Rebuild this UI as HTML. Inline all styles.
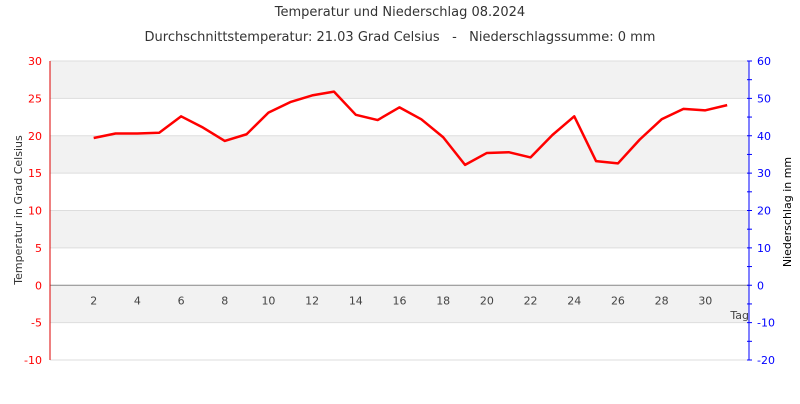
<!DOCTYPE html>
<html><head><meta charset="utf-8"><style>
body{margin:0;background:#fff;font-family:"DejaVu Sans","Liberation Sans",sans-serif}
</style></head><body>
<svg width="800" height="400" xmlns="http://www.w3.org/2000/svg" font-family="DejaVu Sans, Liberation Sans, sans-serif">
<text x="400" y="16" text-anchor="middle" font-size="13" fill="#333">Temperatur und Niederschlag 08.2024</text>
<text x="400" y="41" text-anchor="middle" font-size="13" fill="#333" xml:space="preserve">Durchschnittstemperatur: 21.03 Grad Celsius   -   Niederschlagssumme: 0 mm</text>
<g id="bands"></g><g id="grid"></g><g id="axes"></g><g id="series"></g>
<text transform="translate(22,210) rotate(-90)" text-anchor="middle" font-size="11" fill="#333">Temperatur in Grad Celsius</text>
<text transform="translate(791,212) rotate(-90)" text-anchor="middle" font-size="11" fill="#000">Niederschlag in mm</text>
<text x="749" y="319" text-anchor="end" font-size="11" fill="#444">Tag</text>
</svg>
<script>
const days=[2,3,4,5,6,7,8,9,10,11,12,13,14,15,16,17,18,19,20,21,22,23,24,25,26,27,28,29,30,31];
const temps=[19.7,20.3,20.3,20.4,22.6,21.1,19.3,20.2,23.1,24.5,25.4,25.9,22.8,22.1,23.8,22.2,19.8,16.1,17.7,17.8,17.1,20.1,22.6,16.6,16.3,19.5,22.2,23.6,23.4,24.1];
const leftTicks=[30,25,20,15,10,5,0,-5,-10];
const rightTicks=[60,50,40,30,20,10,0,-10,-20];
const xTicks=[2,4,6,8,10,12,14,16,18,20,22,24,26,28,30];
const NS="http://www.w3.org/2000/svg";
const X0=50,X1=749,Y0=61,Y1=360;
const xs=d=>X0+d*(X1-X0)/32;
const yl=v=>Y1-(v+10)*(Y1-Y0)/40;
const yr=v=>Y1-(v+20)*(Y1-Y0)/80;
function mk(p,t,a){const e=document.createElementNS(NS,t);for(const k in a)e.setAttribute(k,a[k]);document.getElementById(p).appendChild(e);return e;}
for(let i=0;i<leftTicks.length-1;i++){
 if(i%2===0){const r=mk('bands','rect',{x:X0,y:yl(leftTicks[i]),width:X1-X0,height:yl(leftTicks[i+1])-yl(leftTicks[i]),fill:'#f2f2f2'});
 
 }
}
leftTicks.forEach(v=>{
 const l=mk('grid','line',{x1:X0,x2:X1,y1:yl(v),y2:yl(v),stroke:v===0?'#888':'#ddd','stroke-width':1});
 
 
 const t=mk('axes','text',{x:X0-8,y:yl(v)+4,'text-anchor':'end','font-size':11,fill:'#f00'});t.textContent=v;
 
 
});
rightTicks.forEach(v=>{
 const t=mk('axes','text',{x:X1+8,y:yr(v)+4,'font-size':11,fill:'#00f'});t.textContent=v;
 
 
});
for(let v=-20;v<=60;v+=5){const l=mk('axes','line',{x1:X1-2,x2:X1+3,y1:yr(v),y2:yr(v),stroke:'#00f'});
 
 }
xTicks.forEach(d=>{
 const t=mk('axes','text',{x:xs(d),y:yl(0)+19,'text-anchor':'middle','font-size':11,fill:'#444'});t.textContent=d;
 
 
});
let a=mk('axes','line',{x1:X0,x2:X0,y1:Y0,y2:Y1,stroke:'#d00'});


a=mk('axes','line',{x1:X1,x2:X1,y1:Y0,y2:Y1,stroke:'#00f'});


const pl=mk('series','polyline',{points:days.map((d,i)=>xs(d)+','+yl(temps[i])).join(' '),fill:'none',stroke:'#f00','stroke-width':2.5,'stroke-linejoin':'round'});


</script>
</body></html>
